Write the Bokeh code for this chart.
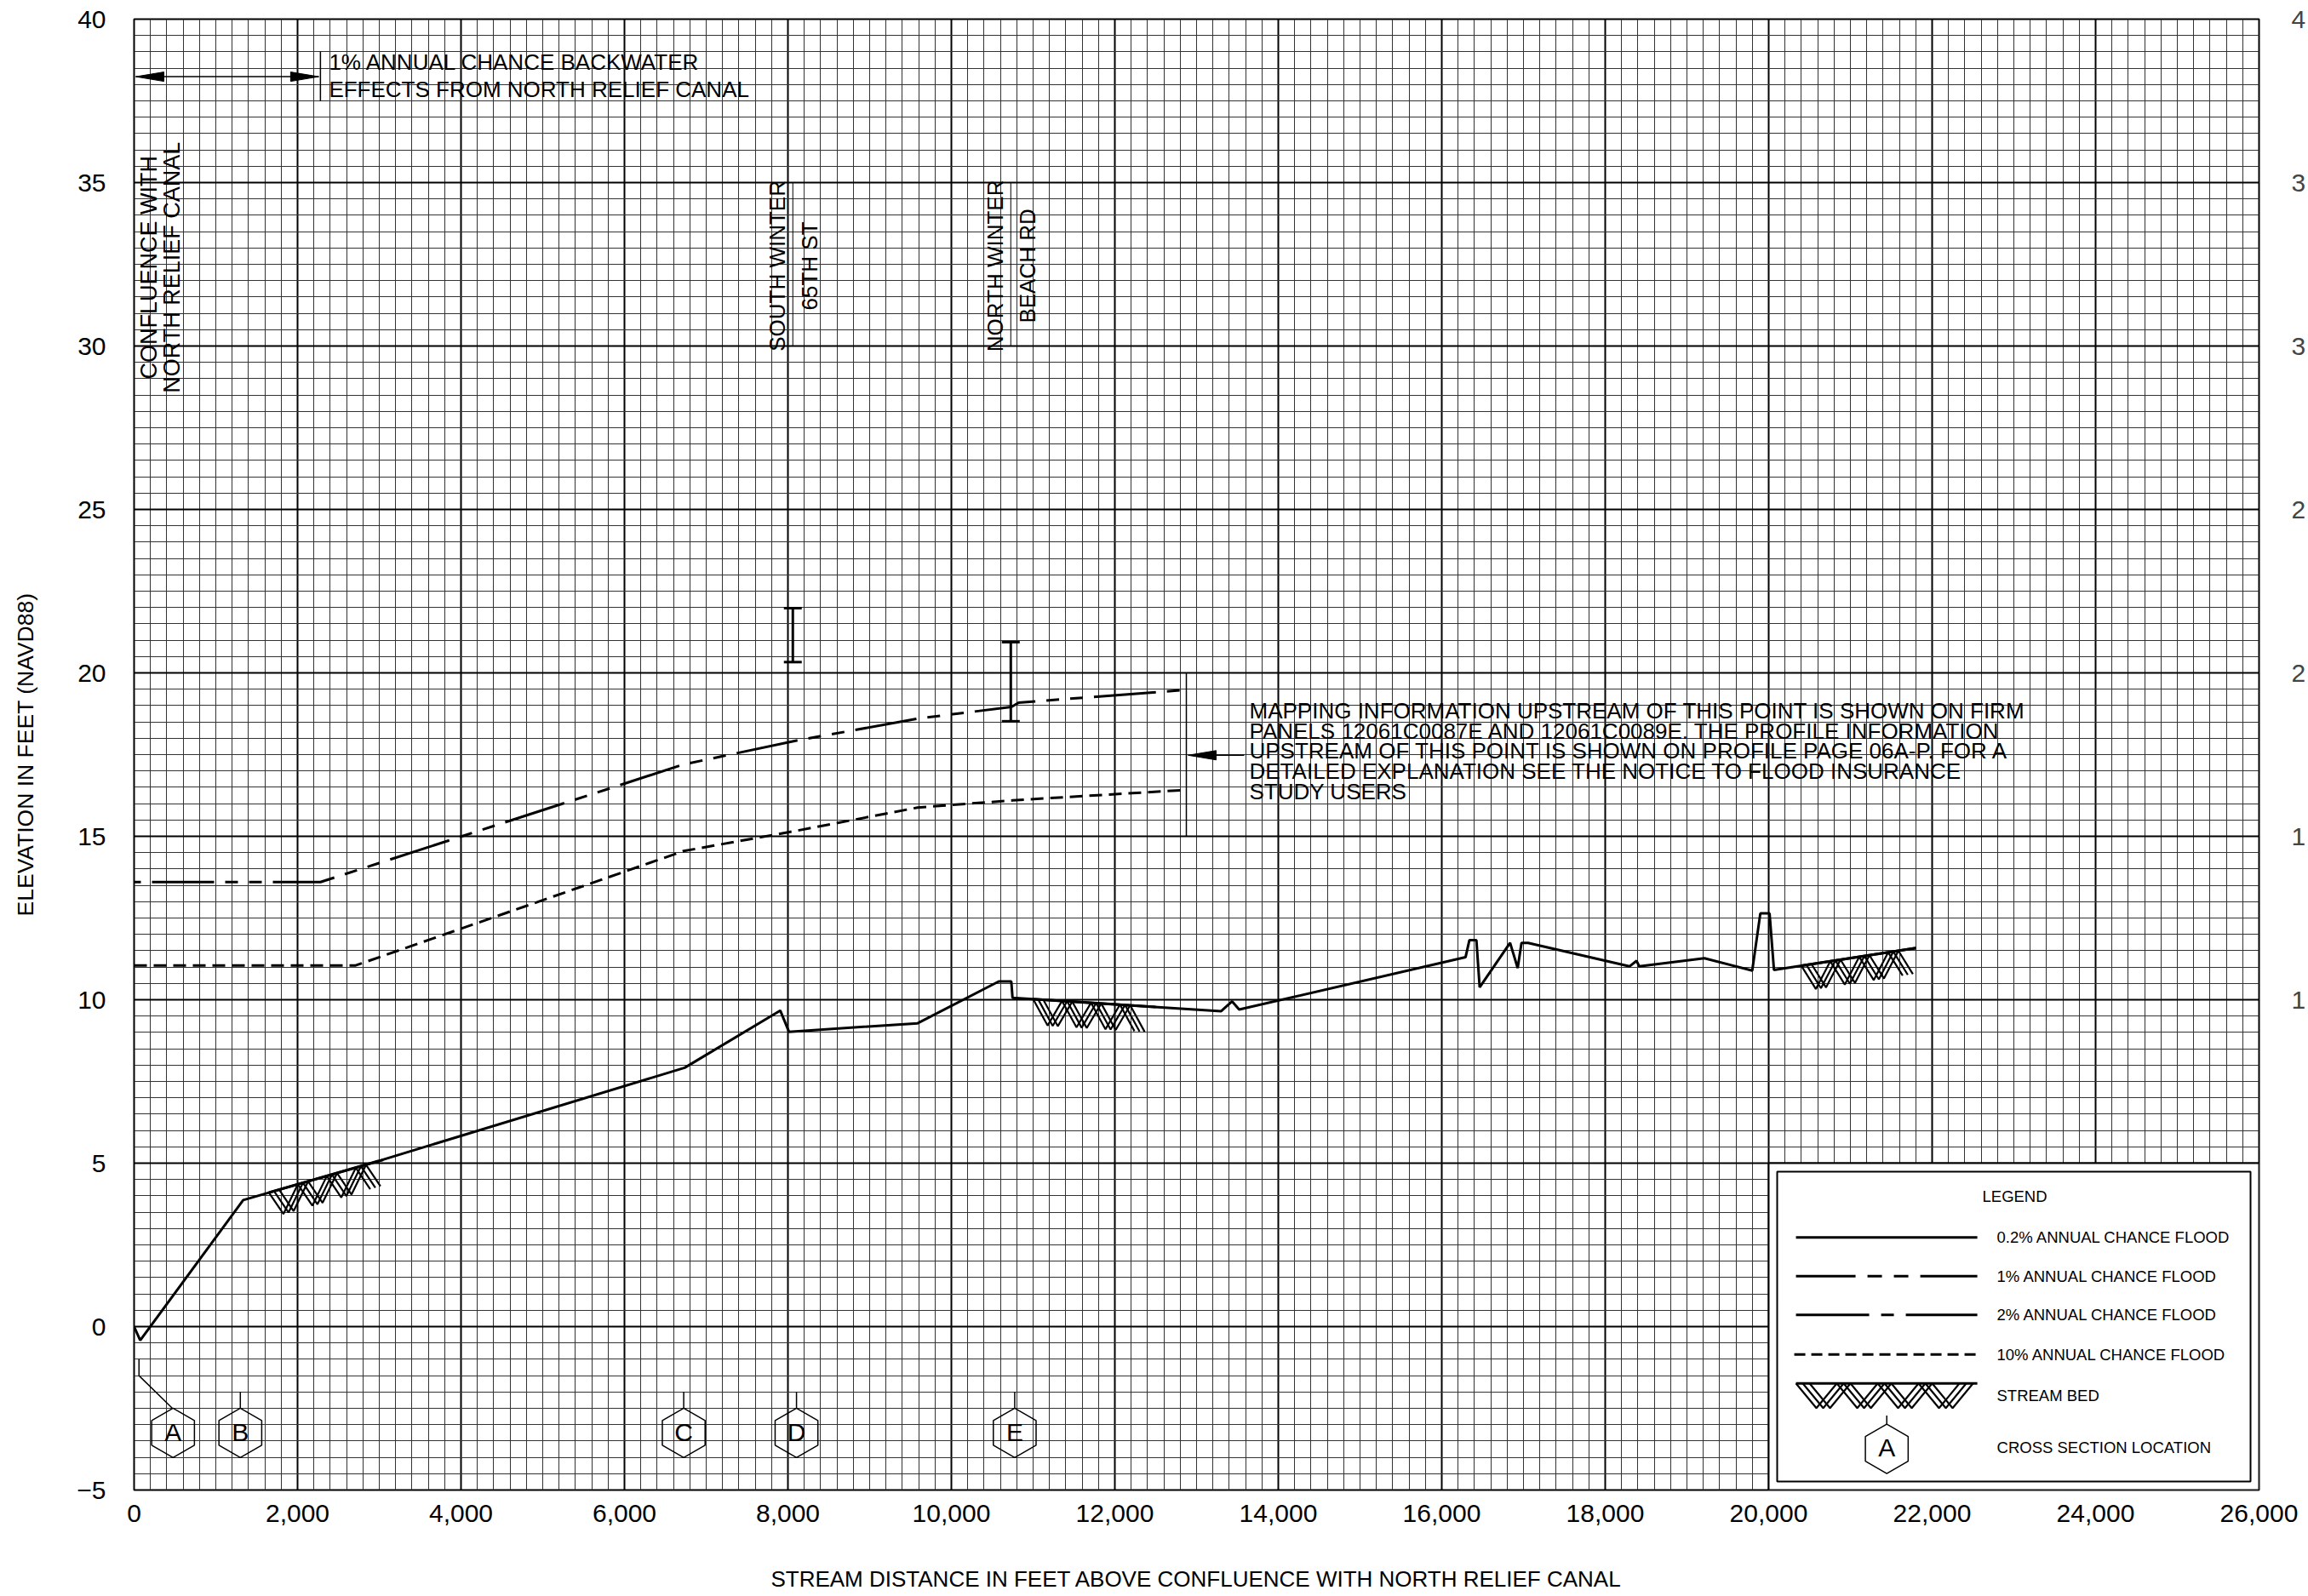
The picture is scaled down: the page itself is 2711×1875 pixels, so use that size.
import numpy as np
from bokeh.plotting import figure
from bokeh.models import Range1d, SingleIntervalTicker, NumeralTickFormatter, LinearAxis
from bokeh.core.properties import value
from bokeh.embed import file_html
from bokeh.resources import INLINE

FONT = "Liberation Sans"

# ---------------- data ----------------
# 0.2% annual chance flood profile (stream distance ft, elevation ft NAVD88)
dist_02 = [0, 75, 1335, 2994, 6737, 7906, 8013, 9587, 10580, 10733, 10748,
           13301, 13435, 13521, 16291, 16338, 16424, 16464, 16836, 16929,
           16976, 17056, 18297, 18384, 18417, 19214, 19799, 19898, 20011,
           20065, 21806]
elev_02 = [0.0, -0.42, 3.87, 5.07, 7.92, 9.67, 9.02, 9.28, 10.56, 10.56, 10.06,
           9.65, 9.95, 9.70, 11.30, 11.82, 11.82, 10.38, 11.74, 10.97,
           11.74, 11.74, 11.02, 11.19, 11.02, 11.27, 10.89, 12.64, 12.64,
           10.91, 11.58]
# 1% annual chance flood profile
dist_1 = [0, 2281, 6725, 8107, 9590, 10735, 10823, 12874]
elev_1 = [13.60, 13.60, 17.20, 17.93, 18.60, 18.96, 19.09, 19.48]
# 10% annual chance flood profile
dist_10 = [0, 2711, 6725, 8107, 9587, 10750, 12874]
elev_10 = [11.05, 11.05, 14.55, 15.17, 15.88, 16.10, 16.42]
# stream bed reaches (start / end)
bed_x0 = [1650, 11000, 20400]
bed_y0 = [4.10, 10.02, 11.04]
bed_x1 = [3050, 12500, 21800]
bed_y1 = [5.10, 9.78, 11.58]
# cross sections
xs_letters = ["A", "B", "C", "D", "E"]
xs_dist = [60, 1300, 6725, 8105, 10775]
# road crossings
road_dist = [8060, 10727]
road_name_1 = ["SOUTH WINTER", "NORTH WINTER"]
road_name_2 = ["65TH ST", "BEACH RD"]
deck_top = [21.98, 20.94]
low_chord = [20.33, 18.52]
# other annotations
limit_dist = 12875
backwater_dist = 2280
right_tick_text = {40: "4", 35: "3", 30: "3", 25: "2", 20: "2", 15: "1", 10: "1", 5: "", 0: "", -5: ""}

backwater_lines = ["1% ANNUAL CHANCE BACKWATER", "EFFECTS FROM NORTH RELIEF CANAL"]
mapping_lines = ["MAPPING INFORMATION UPSTREAM OF THIS POINT IS SHOWN ON FIRM",
                 "PANELS 12061C0087E AND 12061C0089E.  THE PROFILE INFORMATION",
                 "UPSTREAM OF THIS POINT IS SHOWN ON PROFILE PAGE 06A-P.  FOR A",
                 "DETAILED EXPLANATION SEE THE NOTICE TO FLOOD INSURANCE",
                 "STUDY USERS"]
legend_labels = ["0.2% ANNUAL CHANCE FLOOD", "1% ANNUAL CHANCE FLOOD",
                 "2% ANNUAL CHANCE FLOOD", "10% ANNUAL CHANCE FLOOD"]

# ---------------- layout ----------------
X0, X1, Y0, Y1 = 0, 26000, -5, 40
FW, FH = 2496, 1728
FX = (X1 - X0) / FW      # ft per pixel horizontally
FY = (Y1 - Y0) / FH      # ft per pixel vertically
SHIFT = 0.4              # baseline correction (em) for the svg text glyphs

p = figure(width=2711, height=1875, x_range=Range1d(X0, X1), y_range=Range1d(Y0, Y1),
           output_backend="svg", toolbar_location=None,
           min_border_left=157, min_border_right=58, min_border_top=22, min_border_bottom=125,
           background_fill_color="white", border_fill_color="white")
p.outline_line_color = "black"
p.outline_line_width = 2

xt = SingleIntervalTicker(interval=2000, num_minor_ticks=10)
yt = SingleIntervalTicker(interval=5, num_minor_ticks=10)
p.xaxis.ticker = xt
p.yaxis.ticker = yt
p.xgrid.ticker = xt
p.ygrid.ticker = yt
p.xaxis.formatter = NumeralTickFormatter(format="0,0")
p.yaxis.major_label_overrides = {-5: "\u22125"}

for ax in (p.xaxis[0], p.yaxis[0]):
    ax.axis_line_color = None
    ax.major_tick_line_color = None
    ax.minor_tick_line_color = None
    ax.major_tick_out = 0
    ax.major_tick_in = 0
    ax.minor_tick_out = 0
    ax.major_label_text_font = FONT
    ax.major_label_text_font_size = "30px"
    ax.major_label_text_color = "black"
    ax.axis_label_text_font = FONT
    ax.axis_label_text_font_style = "normal"
    ax.axis_label_text_color = "black"

p.xaxis.axis_label = "STREAM DISTANCE IN FEET ABOVE CONFLUENCE WITH NORTH RELIEF CANAL"
p.yaxis.axis_label = "ELEVATION IN FEET (NAVD88)"
p.xaxis.axis_label_text_font_size = "26px"
p.yaxis.axis_label_text_font_size = "26.5px"
p.xaxis.major_label_standoff = 17
p.xaxis.axis_label_standoff = 49
p.yaxis.major_label_standoff = 33
p.yaxis.axis_label_standoff = 42

ry = LinearAxis(ticker=SingleIntervalTicker(interval=5, num_minor_ticks=10))
ry.major_label_overrides = right_tick_text
ry.axis_line_color = None
ry.major_tick_line_color = None
ry.minor_tick_line_color = None
ry.major_tick_out = 0
ry.major_tick_in = 0
ry.minor_tick_out = 0
ry.major_label_text_font = FONT
ry.major_label_text_font_size = "30px"
ry.major_label_standoff = 38
p.add_layout(ry, "right")

for g in (p.xgrid[0], p.ygrid[0]):
    g.grid_line_color = "black"
    g.grid_line_width = 2
    g.minor_grid_line_color = "#333333"
    g.minor_grid_line_width = 1

TF = value(FONT)


def up(fs):
    return SHIFT * fs * FY


def lft(fs):
    return SHIFT * fs * FX


def bed_hatch(xa, ya, xb, yb, depth_px, half_px=14, n=3, step_px=5):
    L = (xb - xa) / FX
    m = (yb - ya) / (xb - xa)
    out_x, out_y = [], []
    for k in range(n):
        px, py = [], []
        t = k * step_px
        j = 0
        while t <= L - (n - 1 - k) * step_px + 1e-9:
            xd = xa + t * FX
            yd = ya + m * (xd - xa) - (depth_px * FY if j % 2 else 0.0)
            px.append(xd)
            py.append(yd)
            t += half_px
            j += 1
        out_x.append(px)
        out_y.append(py)
    return out_x, out_y


def arrow_head(tip_x, tip_y, direction, length_px=33, half_w_px=5.5):
    base_x = tip_x + direction * length_px * FX
    return [tip_x, base_x, base_x], [tip_y, tip_y + half_w_px * FY, tip_y - half_w_px * FY]


# ---------------- legend box (white, under the profiles) ----------------
p.quad(left=[20000], right=[26000], bottom=[-5], top=[5], fill_color="white",
       line_color="black", line_width=2)
p.quad(left=[20000 + 10 * FX], right=[26000 - 10 * FX], bottom=[-5 + 10 * FY], top=[5 - 10 * FY],
       fill_color=None, line_color="black", line_width=2)

# ---------------- profiles ----------------
p.line(dist_02, elev_02, line_color="black", line_width=3)
p.line(dist_1, elev_1, line_color="black", line_width=3,
       line_dash="73 13 15 13 15 13", line_dash_offset=121)
p.line(dist_10, elev_10, line_color="black", line_width=3, line_dash="15 8")

# stream bed hatching
hx, hy = [], []
for a, b, c, d in zip(bed_x0, bed_y0, bed_x1, bed_y1):
    xs_, ys_ = bed_hatch(a, b, c, d, 30, half_px=17, n=3, step_px=6)
    hx += xs_
    hy += ys_
p.multi_line(hx, hy, line_color="black", line_width=2.2)
p.segment(bed_x0, bed_y0, bed_x1, bed_y1, line_color="black", line_width=3)

# ---------------- cross sections ----------------
hex_cy = -3.25
hex_top = hex_cy + 29 * FY
hex_x = [xs_dist[0] + 40 * FX] + xs_dist[1:]
lead_x = [[xs_dist[0], xs_dist[0], hex_x[0] - 1 * FX]]
lead_y = [[-1.0, -1.5, hex_top]]
for xv in xs_dist[1:]:
    lead_x.append([xv, xv])
    lead_y.append([-2.0, hex_top])
p.multi_line(lead_x, lead_y, line_color="black", line_width=1.5)
p.scatter(hex_x, [hex_cy] * len(hex_x), marker="hex", size=58, angle=np.pi / 2,
          fill_alpha=0, line_color="black", line_width=1.5)
p.text(hex_x, [hex_cy - 0.358 * 30 * FY + up(30)] * len(hex_x), text=xs_letters,
       text_align="center", text_baseline="alphabetic", text_font=TF,
       text_font_size=value("30px"), text_color="black")

# ---------------- road crossings ----------------
p.segment(road_dist, [30] * 2, road_dist, [35] * 2, line_color="black", line_width=1)
p.text([r - 8 * FX - lft(26) for r in road_dist], [32.45] * 2, text=road_name_1, angle=np.pi / 2,
       text_align="center", text_baseline="alphabetic", text_font=TF,
       text_font_size=value("26px"), text_color="black")
p.text([r + 30 * FX - lft(26) for r in road_dist], [32.45] * 2, text=road_name_2, angle=np.pi / 2,
       text_align="center", text_baseline="alphabetic", text_font=TF,
       text_font_size=value("26px"), text_color="black")
p.text([28 * FX - lft(27), 55 * FX - lft(27)], [32.4, 32.4],
       text=["CONFLUENCE WITH", "NORTH RELIEF CANAL"], angle=np.pi / 2,
       text_align="center", text_baseline="alphabetic", text_font=TF,
       text_font_size=value("27px"), text_color="black")

# bridge deck / low chord markers
p.segment(road_dist, low_chord, road_dist, deck_top, line_color="black", line_width=3)
p.scatter(road_dist * 2, deck_top + low_chord, marker="dash", size=21,
          line_color="black", line_width=3)

# ---------------- limit of detailed study ----------------
p.segment([limit_dist], [15], [limit_dist], [20], line_color="black", line_width=1.5)
ay = 17.48
p.segment([limit_dist + 20 * FX], [ay], [limit_dist + 68 * FX], [ay], line_color="black", line_width=1.5)
axh, ayh = arrow_head(limit_dist + 2 * FX, ay, 1)
p.patch(axh, ayh, fill_color="black", line_color="black")
p.text([limit_dist + 74 * FX] * 5, [18.57 - i * 23.7 * FY + up(26) for i in range(5)], text=mapping_lines,
       text_align="left", text_baseline="alphabetic", text_font=TF,
       text_font_size=value("26px"), text_color="black")

# ---------------- backwater annotation ----------------
by = 38.24
p.segment([backwater_dist], [37.49], [backwater_dist], [39.01], line_color="black", line_width=1.5)
p.segment([2 * FX], [by], [backwater_dist - 2 * FX], [by], line_color="black", line_width=1.5)
for tx, d in ((2 * FX, 1), (backwater_dist - 2 * FX, -1)):
    axh, ayh = arrow_head(tx, by, d)
    p.patch(axh, ayh, fill_color="black", line_color="black")
p.text([backwater_dist + 10 * FX] * 2, [38.41 + up(26), 37.58 + up(26)], text=backwater_lines,
       text_align="left", text_baseline="alphabetic", text_font=TF,
       text_font_size=value("26px"), text_color="black")

# ---------------- legend contents ----------------
lx0, lx1, ltx = 20334, 22553, 22792
row_y = [2.73, 1.54, 0.36, -0.85]
p.text([23011], [3.78 + up(18.5)], text=["LEGEND"], text_align="center", text_baseline="alphabetic",
       text_font=TF, text_font_size=value("18.5px"), text_color="black")
p.line([lx0, lx1], [row_y[0]] * 2, line_color="black", line_width=3)
p.line([lx0, lx1], [row_y[1]] * 2, line_color="black", line_width=3, line_dash="70 14 17 14 17 14")
p.line([lx0, lx1], [row_y[2]] * 2, line_color="black", line_width=3, line_dash="86 14 15 14")
p.line([lx0 - 2 * FX, lx1 - 2 * FX], [row_y[3]] * 2, line_color="black", line_width=3, line_dash="13 7")
bed_ly = -1.74
lhx, lhy = bed_hatch(lx0, bed_ly, lx1, bed_ly, 29, half_px=24, n=3, step_px=8)
p.multi_line(lhx, lhy, line_color="black", line_width=2.2)
p.line([lx0, lx1], [bed_ly] * 2, line_color="black", line_width=3)
lhex_x, lhex_y = 21445, -3.74
p.segment([lhex_x], [lhex_y + 29 * FY], [lhex_x], [lhex_y + 39 * FY], line_color="black", line_width=1.5)
p.scatter([lhex_x], [lhex_y], marker="hex", size=58, angle=np.pi / 2,
          fill_alpha=0, line_color="black", line_width=1.5)
p.text([lhex_x], [lhex_y - 0.358 * 30 * FY + up(30)], text=["A"], text_align="center",
       text_baseline="alphabetic", text_font=TF, text_font_size=value("30px"), text_color="black")
p.text([ltx] * 6, [v + up(18.5) for v in [2.55, 1.34, 0.16, -1.06, -2.31, -3.89]],
       text=legend_labels + ["STREAM BED", "CROSS SECTION LOCATION"],
       text_align="left", text_baseline="alphabetic", text_font=TF,
       text_font_size=value("18.5px"), text_color="black")

open("out.html", "w").write(file_html(p, INLINE))
